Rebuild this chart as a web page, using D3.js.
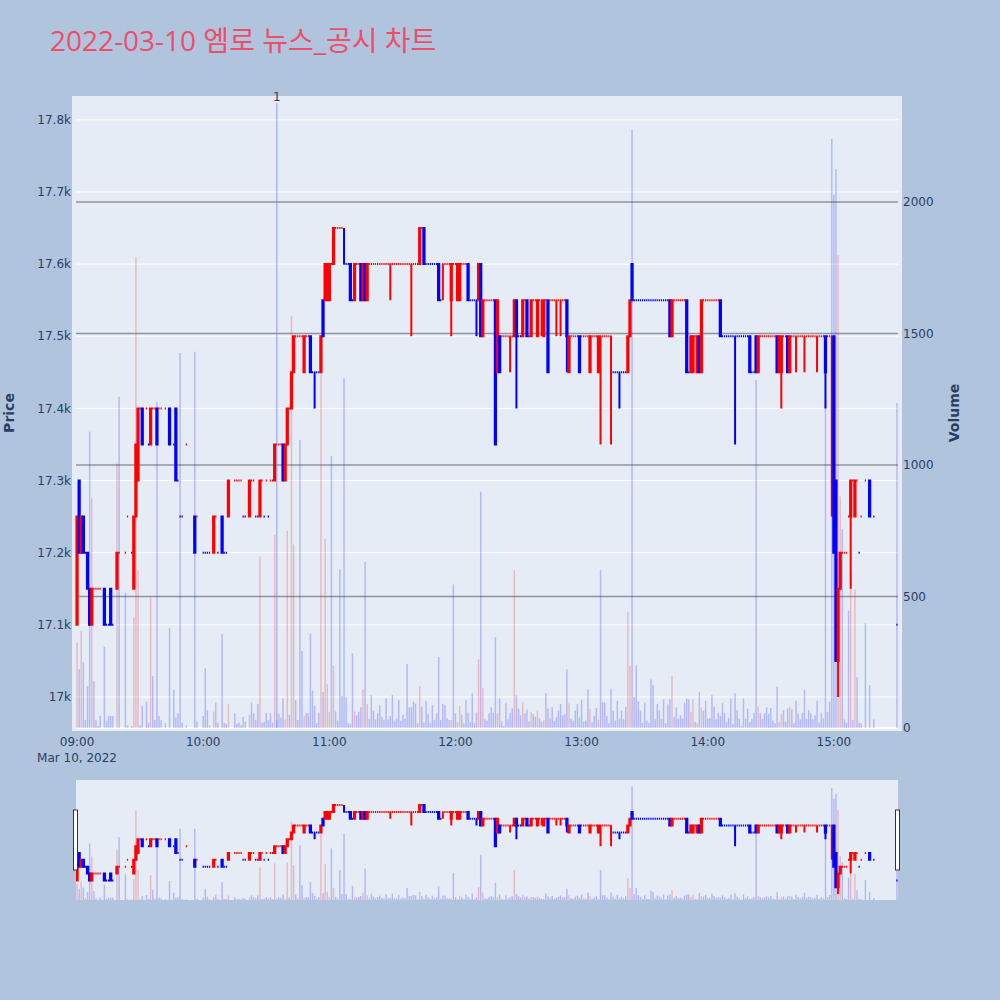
<!DOCTYPE html>
<html><head><meta charset="utf-8">
<script src="https://cdn.jsdelivr.net/npm/d3@7"></script>
<style>body{margin:0;background:#b0c4de}text{font-family:"DejaVu Sans","Noto Sans CJK KR",sans-serif}</style>
</head><body><svg id="chart" width="1000" height="1000"></svg>
<script>
// ---------- DATA ----------
const times = [
"09:00","09:01","09:02","09:03","09:04","09:05","09:06","09:07","09:08","09:09","09:10","09:11",
"09:13","09:14","09:15","09:16","09:17","09:19","09:20","09:23","09:24","09:26","09:27","09:28","09:29",
"09:30","09:31","09:33","09:34","09:35","09:36","09:37","09:38","09:39","09:40","09:42","09:44","09:46",
"09:47","09:48","09:49","09:50","09:52","09:56","09:57","10:00","10:01","10:02","10:03","10:05","10:06",
"10:07","10:09","10:10","10:11","10:12","10:15","10:16","10:17","10:18","10:19","10:20","10:22","10:23",
"10:24","10:25","10:26","10:27","10:28","10:29","10:30","10:31","10:32","10:33","10:34",
"10:35","10:36","10:37","10:38","10:39","10:40","10:41","10:42","10:43","10:44",
"10:45","10:46","10:47","10:48","10:49","10:50","10:51","10:52","10:53","10:54",
"10:55","10:56","10:57","10:58","10:59","11:00","11:01","11:02","11:03","11:04",
"11:05","11:06","11:07","11:08","11:09","11:10","11:11","11:12","11:13","11:14",
"11:15","11:16","11:17","11:18","11:19","11:20","11:21","11:22","11:23","11:24",
"11:25","11:26","11:27","11:28","11:29","11:30","11:31","11:32","11:33","11:34",
"11:35","11:36","11:37","11:38","11:39","11:40","11:41","11:42","11:43","11:44",
"11:45","11:46","11:47","11:48","11:49","11:50","11:51","11:52","11:53","11:54",
"11:55","11:56","11:57","11:58","11:59","12:00","12:01","12:02","12:03","12:04",
"12:05","12:06","12:07","12:08","12:09","12:10","12:11","12:12","12:13","12:14",
"12:15","12:16","12:17","12:18","12:19","12:20","12:21","12:22","12:23","12:24",
"12:25","12:26","12:27","12:28","12:29","12:30","12:31","12:32","12:33","12:34",
"12:35","12:36","12:37","12:38","12:39","12:40","12:41","12:42","12:43","12:44",
"12:45","12:46","12:47","12:48","12:49","12:50","12:51","12:52","12:53","12:54",
"12:55","12:56","12:57","12:58","12:59","13:00","13:01","13:02","13:03","13:04",
"13:05","13:06","13:07","13:08","13:09","13:10","13:11","13:12","13:13","13:14",
"13:15","13:16","13:17","13:18","13:19","13:20","13:21","13:22","13:23","13:24",
"13:25","13:26","13:27","13:28","13:29","13:30","13:31","13:32","13:33","13:34",
"13:35","13:36","13:37","13:38","13:39","13:40","13:41","13:42","13:43","13:44",
"13:45","13:46","13:47","13:48","13:49","13:50","13:51","13:52","13:53","13:54",
"13:55","13:56","13:57","13:58","13:59","14:00","14:01","14:02","14:03","14:04",
"14:05","14:06","14:07","14:08","14:09","14:10","14:11","14:12","14:13","14:14",
"14:15","14:16","14:17","14:18","14:19","14:20","14:21","14:22","14:23","14:24",
"14:25","14:26","14:27","14:28","14:29","14:30","14:31","14:32","14:33","14:34",
"14:35","14:36","14:37","14:38","14:39","14:40","14:41","14:42","14:43","14:44",
"14:45","14:46","14:47","14:48","14:49","14:50","14:51","14:52","14:53","14:54",
"14:55","14:56","14:57","14:58","14:59","15:00","15:01","15:02","15:03","15:04",
"15:05","15:06","15:07","15:08","15:09","15:10","15:11","15:12","15:13",
"15:15","15:17","15:19","15:30"];

const opens = [
17100,17300,17200,17250,17200,17200,17150,17100,17150,17150,17150,17150,
17150,17100,17100,17150,17100,17150,17200,17200,17250,17200,17150,17250,17300,
17400,17400,17400,17350,17350,17400,17400,17400,17400,17400,17400,17400,17350,
17400,17300,17250,17250,17350,17250,17250,17200,17200,17200,17200,17200,17250,
17200,17250,17200,17200,17250,17300,17300,17300,17300,17250,17250,17250,17300,
17300,17250,17250,17250,17300,17250,17300,17250,17300,17300,17300,
17350,17350,17350,17350,17300,17350,17400,17400,17450,17500,
17500,17500,17500,17450,17500,17500,17500,17450,17450,17450,
17450,17450,17550,17550,17550,17550,17600,17600,17650,17650,
17650,17650,17600,17600,17600,17600,17550,17550,17600,17600,
17600,17550,17600,17550,17600,17600,17600,17600,17600,17600,
17600,17600,17600,17600,17600,17600,17600,17600,17600,17600,
17600,17600,17600,17600,17600,17600,17600,17600,17600,17650,
17650,17600,17600,17600,17600,17600,17600,17600,17550,17600,
17600,17600,17600,17550,17600,17600,17550,17550,17600,17600,
17600,17600,17550,17550,17550,17550,17550,17600,17500,17550,
17550,17550,17550,17550,17550,17450,17500,17500,17500,17500,
17500,17500,17500,17500,17550,17500,17500,17500,17550,17550,
17500,17500,17550,17550,17500,17550,17550,17500,17550,17550,
17550,17550,17550,17550,17550,17550,17550,17550,17550,17450,
17500,17500,17500,17500,17500,17500,17500,17500,17500,17450,
17500,17500,17500,17450,17500,17500,17500,17500,17500,17500,
17450,17450,17450,17450,17450,17450,17450,17450,17500,17600,
17550,17550,17550,17550,17550,17550,17550,17550,17550,17550,
17550,17550,17550,17550,17550,17550,17550,17550,17500,17550,
17550,17550,17550,17550,17550,17550,17450,17450,17450,17500,
17450,17500,17450,17550,17550,17550,17550,17550,17550,17550,
17550,17550,17500,17500,17500,17500,17500,17500,17500,17500,
17500,17500,17500,17500,17500,17500,17450,17450,17500,17450,
17500,17500,17500,17500,17500,17500,17500,17500,17500,17450,
17450,17500,17500,17500,17450,17500,17500,17500,17500,17500,
17500,17500,17500,17500,17500,17500,17500,17500,17500,17500,
17500,17500,17500,17500,17500,17500,17300,17050,17150,17200,
17200,17200,17250,17250,17300,17250,17300,17200,17250,
17300,17300,17250,17100];

const highs = [
17250,17300,17250,17250,17200,17200,17150,17150,17150,17150,17150,17150,
17150,17100,17100,17150,17100,17200,17200,17200,17250,17200,17250,17350,17400,
17400,17400,17400,17350,17400,17400,17400,17400,17400,17400,17400,17400,17350,
17400,17300,17250,17250,17350,17250,17250,17200,17200,17200,17200,17250,17250,
17200,17250,17200,17200,17300,17300,17300,17300,17300,17250,17250,17300,17300,
17300,17250,17250,17300,17300,17250,17300,17250,17300,17300,17350,
17350,17350,17350,17350,17350,17400,17400,17450,17500,17500,
17500,17500,17500,17500,17500,17500,17500,17450,17450,17450,
17450,17500,17550,17600,17600,17600,17600,17650,17650,17650,
17650,17650,17650,17600,17600,17600,17550,17600,17600,17600,
17600,17600,17600,17600,17600,17600,17600,17600,17600,17600,
17600,17600,17600,17600,17600,17600,17600,17600,17600,17600,
17600,17600,17600,17600,17600,17600,17600,17600,17650,17650,
17650,17600,17600,17600,17600,17600,17600,17600,17550,17600,
17600,17600,17600,17600,17600,17600,17600,17600,17600,17600,
17600,17600,17550,17550,17550,17550,17600,17600,17550,17550,
17550,17550,17550,17550,17550,17550,17500,17500,17500,17500,
17500,17500,17500,17550,17550,17500,17500,17550,17550,17550,
17500,17550,17550,17550,17550,17550,17550,17550,17550,17550,
17550,17550,17550,17550,17550,17550,17550,17550,17550,17500,
17500,17500,17500,17500,17500,17500,17500,17500,17500,17500,
17500,17500,17500,17500,17500,17500,17500,17500,17500,17500,
17450,17450,17450,17450,17450,17450,17450,17500,17550,17600,
17550,17550,17550,17550,17550,17550,17550,17550,17550,17550,
17550,17550,17550,17550,17550,17550,17550,17550,17550,17550,
17550,17550,17550,17550,17550,17550,17450,17500,17500,17500,
17500,17500,17550,17550,17550,17550,17550,17550,17550,17550,
17550,17550,17500,17500,17500,17500,17500,17500,17500,17500,
17500,17500,17500,17500,17500,17500,17450,17450,17500,17500,
17500,17500,17500,17500,17500,17500,17500,17500,17500,17500,
17500,17500,17500,17500,17500,17500,17500,17500,17500,17500,
17500,17500,17500,17500,17500,17500,17500,17500,17500,17500,
17500,17500,17500,17500,17500,17500,17300,17150,17200,17200,
17200,17200,17250,17300,17300,17300,17300,17200,17250,
17300,17300,17250,17100];

const lows = [
17100,17200,17200,17200,17200,17150,17100,17100,17150,17150,17150,17150,
17100,17100,17100,17100,17100,17150,17200,17200,17250,17200,17150,17250,17300,
17400,17350,17400,17350,17350,17400,17400,17350,17400,17400,17400,17350,17350,
17300,17300,17250,17250,17350,17200,17250,17200,17200,17200,17200,17200,17250,
17200,17200,17200,17200,17250,17300,17300,17300,17300,17250,17250,17250,17300,
17300,17250,17250,17250,17300,17250,17300,17250,17300,17300,17300,
17350,17350,17350,17300,17300,17350,17400,17400,17450,17500,
17500,17500,17500,17450,17500,17500,17450,17450,17400,17450,
17450,17450,17500,17550,17550,17550,17600,17600,17650,17650,
17650,17650,17600,17600,17600,17550,17550,17550,17600,17600,
17550,17550,17550,17550,17600,17600,17600,17600,17600,17600,
17600,17600,17600,17600,17550,17600,17600,17600,17600,17600,
17600,17600,17600,17600,17500,17600,17600,17600,17600,17650,
17600,17600,17600,17600,17600,17600,17600,17550,17550,17550,
17600,17600,17600,17500,17600,17600,17550,17550,17600,17600,
17600,17550,17550,17550,17550,17500,17550,17500,17500,17550,
17550,17550,17550,17550,17350,17450,17450,17500,17500,17500,
17500,17450,17500,17500,17400,17500,17500,17500,17550,17500,
17500,17500,17550,17550,17500,17550,17500,17500,17550,17450,
17550,17550,17550,17500,17550,17500,17550,17550,17450,17450,
17500,17500,17500,17500,17450,17500,17500,17500,17500,17450,
17500,17500,17500,17450,17350,17500,17500,17500,17500,17350,
17450,17450,17450,17400,17450,17450,17450,17450,17500,17550,
17550,17550,17550,17550,17550,17550,17550,17550,17550,17550,
17550,17550,17550,17550,17550,17550,17550,17500,17500,17550,
17550,17550,17550,17550,17550,17450,17450,17450,17450,17500,
17450,17450,17450,17550,17550,17550,17550,17550,17550,17550,
17550,17500,17500,17500,17500,17500,17500,17500,17350,17500,
17500,17500,17500,17500,17500,17450,17450,17450,17450,17450,
17500,17500,17500,17500,17500,17500,17500,17500,17450,17450,
17400,17500,17500,17450,17450,17500,17500,17450,17500,17500,
17500,17450,17500,17500,17500,17500,17500,17450,17500,17500,
17500,17400,17500,17500,17250,17200,17050,17000,17150,17200,
17200,17200,17250,17150,17300,17250,17300,17200,17250,
17300,17250,17250,17100];

const closes = [
17250,17200,17250,17200,17200,17150,17100,17150,17150,17150,17150,17150,
17100,17100,17100,17100,17100,17200,17200,17200,17250,17200,17250,17350,17400,
17400,17350,17400,17350,17400,17400,17400,17350,17400,17400,17400,17350,17350,
17300,17300,17250,17250,17350,17200,17250,17200,17200,17200,17200,17250,17250,
17200,17200,17200,17200,17300,17300,17300,17300,17300,17250,17250,17300,17300,
17300,17250,17250,17300,17300,17250,17300,17250,17300,17300,17350,
17350,17350,17350,17300,17350,17400,17400,17450,17500,17500,
17500,17500,17500,17500,17500,17500,17450,17450,17450,17450,
17450,17500,17500,17600,17600,17600,17600,17650,17650,17650,
17650,17650,17600,17600,17600,17550,17550,17600,17600,17600,
17550,17600,17550,17600,17600,17600,17600,17600,17600,17600,
17600,17600,17600,17600,17600,17600,17600,17600,17600,17600,
17600,17600,17600,17600,17600,17600,17600,17600,17650,17650,
17600,17600,17600,17600,17600,17600,17600,17550,17550,17600,
17600,17600,17600,17600,17600,17600,17600,17600,17600,17600,
17600,17550,17550,17550,17550,17550,17600,17500,17550,17550,
17550,17550,17550,17550,17350,17550,17450,17500,17500,17500,
17500,17500,17500,17550,17500,17500,17500,17550,17550,17500,
17500,17550,17550,17550,17550,17550,17550,17550,17550,17450,
17550,17550,17550,17550,17550,17550,17550,17550,17500,17500,
17500,17500,17500,17500,17450,17500,17500,17500,17500,17500,
17500,17500,17500,17500,17500,17500,17500,17500,17500,17500,
17450,17450,17450,17450,17450,17450,17450,17500,17550,17550,
17550,17550,17550,17550,17550,17550,17550,17550,17550,17550,
17550,17550,17550,17550,17550,17550,17550,17500,17550,17550,
17550,17550,17550,17550,17550,17450,17450,17500,17500,17500,
17500,17450,17550,17550,17550,17550,17550,17550,17550,17550,
17550,17500,17500,17500,17500,17500,17500,17500,17500,17500,
17500,17500,17500,17500,17500,17450,17450,17450,17450,17500,
17500,17500,17500,17500,17500,17500,17500,17500,17450,17500,
17500,17500,17500,17450,17500,17500,17500,17500,17500,17500,
17500,17500,17500,17500,17500,17500,17500,17500,17500,17500,
17500,17450,17500,17500,17500,17200,17050,17150,17200,17200,
17200,17200,17250,17300,17300,17300,17300,17200,17250,
17300,17250,17250,17100];

const volumes = [
324,224,370,250,30,160,1127,873,179,30,8,46,
309,27,46,46,46,1006,1260,515,10,8,420,1791,600,
10,84,100,20,496,198,30,1240,46,30,18,380,145,
40,56,1426,20,10,1430,25,46,227,68,10,62,96,
20,357,20,15,91,56,15,20,10,43,25,51,96,
56,30,91,651,20,25,56,30,56,20,734,
30,53,40,113,33,750,50,1566,698,106,
30,1095,293,47,56,56,360,142,84,18,
58,1361,137,719,167,61,1034,238,63,28,
603,122,1330,119,18,16,284,63,48,61,
79,147,631,91,35,125,66,33,56,86,
43,30,113,33,46,125,28,35,106,28,
51,35,243,79,79,100,94,18,160,81,
20,104,53,18,88,30,56,270,30,91,
87,38,30,30,546,56,23,84,51,18,
106,58,23,132,18,58,261,899,151,33,
28,56,79,58,345,56,112,25,8,94,
33,58,75,600,124,74,48,98,56,70,
25,61,53,43,66,37,24,28,132,74,
37,79,27,41,66,91,48,53,223,94,
36,28,66,91,40,108,25,28,147,73,
23,46,76,30,600,98,96,46,18,150,
66,28,104,36,66,33,81,442,236,2274,
118,238,100,66,20,96,28,18,185,163,
33,91,68,33,109,18,90,109,198,41,
79,36,48,36,94,112,109,61,109,23,
18,136,77,66,104,36,38,125,81,33,
58,46,94,56,23,39,112,15,132,68,
35,8,112,35,74,23,35,58,1323,81,
56,35,56,79,53,76,28,18,157,23,
53,68,25,74,81,71,18,104,56,33,
58,144,35,68,56,33,48,104,20,56,
37,1250,61,100,2240,2027,2125,1798,880,756,
33,20,446,594,30,527,193,20,18,
398,163,33,1236];

const priceTicks = [17000,17100,17200,17300,17400,17500,17600,17700,17800];
const priceTickLabels = ["17k","17.1k","17.2k","17.3k","17.4k","17.5k","17.6k","17.7k","17.8k"];
const volumeTicks = [0,500,1000,1500,2000];
const hourTicks = ["09:00","10:00","11:00","12:00","13:00","14:00","15:00"];
const newsTimes = ["10:35"];
const newsLabels = ["1"];
const titleText = "2022-03-10 엠로 뉴스_공시 차트";
const dateLabel = "Mar 10, 2022";

// ---------- LAYOUT ----------
const svg = d3.select("#chart");
const W = 1000, H = 1000;
const plot = {left: 76, right: 898, top: 96, bottom: 728};
const slider = {top: 780, bottom: 900};
const RED = "#ff0000", BLUE = "#0000ff", TXT = "#2a3f5f";

const parse = t => { const [h, m] = t.split(":").map(Number); return new Date(2022, 2, 10, h, m); };
const x = d3.scaleTime()
  .domain([new Date(2022, 2, 10, 8, 59, 30), new Date(2022, 2, 10, 15, 30, 30)])
  .range([plot.left, plot.right]);
const yP = d3.scaleLinear().domain([16957, 17833]).range([plot.bottom, plot.top]);
const yV = d3.scaleLinear().domain([0, 2403]).range([plot.bottom, plot.top]);
const yPs = d3.scaleLinear().domain([16957, 17833]).range([slider.bottom, slider.top]);
const yVs = d3.scaleLinear().domain([0, 2403]).range([slider.bottom, slider.top]);

// build candles + direction (plotly rule)
const data = [];
let prevC = null, prevDir = "inc";
times.forEach((t, i) => {
  const o = opens[i], h = highs[i], l = lows[i], c = closes[i];
  let dir;
  if (c > o) dir = "inc"; else if (c < o) dir = "dec";
  else if (prevC !== null && c > prevC) dir = "inc";
  else if (prevC !== null && c < prevC) dir = "dec";
  else dir = prevDir;
  prevC = c; prevDir = dir;
  data.push({t: parse(t), o, h, l, c, v: volumes[i], dir, volUp: c > o});
});

svg.append("rect").attr("width", W).attr("height", H).attr("fill", "#b0c4de");

// Title
svg.append("text").attr("x", 50).attr("y", 51).attr("font-size", 28)
  .style("font-family", '"Open Sans","Noto Sans CJK KR",sans-serif')
  .attr("fill", "#ee4e6a").text(titleText);

// plot background
svg.append("rect").attr("x", 72).attr("y", plot.top).attr("width", 830).attr("height", 635)
  .attr("fill", "#e5ecf6");

// price gridlines
svg.append("g").selectAll("line").data(priceTicks).join("line")
  .attr("x1", plot.left).attr("x2", plot.right)
  .attr("y1", d => yP(d)).attr("y2", d => yP(d))
  .attr("stroke", "#fff").attr("stroke-width", 1);
// volume gridlines
svg.append("g").selectAll("line").data(volumeTicks.filter(d => d > 0)).join("line")
  .attr("x1", plot.left).attr("x2", plot.right)
  .attr("y1", d => yV(d)).attr("y2", d => yV(d))
  .attr("stroke", "#8f959c").attr("stroke-width", 1.5);
svg.append("line").attr("x1", plot.left).attr("x2", plot.right)
  .attr("y1", yV(0)).attr("y2", yV(0)).attr("stroke", "#fff").attr("stroke-width", 2);

const step = x(parse("09:01")) - x(parse("09:00"));
const half = step * 0.3;
function candlePath(d, ys) {
  const xc = x(d.t), x0 = xc - half, x1 = xc + half;
  const yo = ys(d.o), yc = ys(d.c), yh = ys(d.h), yl = ys(d.l);
  return `M${x0},${yo}H${x1}V${yc}H${x0}Z` +
    `M${xc},${yl}V${Math.max(yo, yc)}M${xc},${yh}V${Math.min(yo, yc)}`;
}
function drawCandles(g, ys) {
  g.selectAll("path").data(data).join("path")
    .attr("d", d => candlePath(d, ys))
    .attr("fill", d => d.dir === "inc" ? RED : BLUE)
    .attr("stroke", d => d.dir === "inc" ? RED : BLUE)
    .attr("stroke-width", 2);
}
function drawVolume(g, ys, base) {
  const bw = step * 0.7;
  g.selectAll("rect").data(data).join("rect")
    .attr("x", d => x(d.t) - bw / 2).attr("width", bw)
    .attr("y", d => ys(d.v)).attr("height", d => base - ys(d.v))
    .attr("fill", d => d.volUp ? RED : BLUE).attr("opacity", 0.22);
}

// main plot
drawCandles(svg.append("g"), yP);
drawVolume(svg.append("g"), yV, plot.bottom);

// news line + label
newsTimes.forEach((t, i) => {
  const xx = x(parse(t));
  svg.append("line").attr("x1", xx).attr("x2", xx).attr("y1", 103).attr("y2", plot.bottom)
    .attr("stroke", "#6f86ee").attr("stroke-opacity", 0.5).attr("stroke-width", 1.5);
  svg.append("text").attr("x", xx).attr("y", 101).attr("text-anchor", "middle")
    .attr("font-size", 12).attr("fill", TXT).text(newsLabels[i]);
});

// axes labels
svg.append("g").selectAll("text").data(priceTicks).join("text")
  .attr("x", 71).attr("y", d => yP(d)).attr("dy", "0.35em").attr("text-anchor", "end")
  .attr("font-size", 12).attr("fill", TXT).text((d, i) => priceTickLabels[i]);
svg.append("g").selectAll("text").data(volumeTicks).join("text")
  .attr("x", 903).attr("y", d => yV(d)).attr("dy", "0.35em").attr("text-anchor", "start")
  .attr("font-size", 12).attr("fill", TXT).text(d => d);
svg.append("g").selectAll("text").data(hourTicks).join("text")
  .attr("x", d => x(parse(d))).attr("y", 746).attr("text-anchor", "middle")
  .attr("font-size", 12).attr("fill", TXT).text(d => d);
svg.append("text").attr("x", x(parse("09:00"))).attr("y", 762).attr("text-anchor", "middle")
  .attr("font-size", 12).attr("fill", TXT).text(dateLabel);

svg.append("text").attr("transform", "translate(14,413) rotate(-90)").attr("text-anchor", "middle")
  .attr("font-size", 14).attr("font-weight", "bold").attr("fill", TXT).text("Price");
svg.append("text").attr("transform", "translate(959,413) rotate(-90)").attr("text-anchor", "middle")
  .attr("font-size", 14).attr("font-weight", "bold").attr("fill", TXT).text("Volume");

// range slider
svg.append("rect").attr("x", plot.left).attr("y", slider.top)
  .attr("width", plot.right - plot.left).attr("height", slider.bottom - slider.top).attr("fill", "#e5ecf6");
const sg = svg.append("g");
sg.append("defs").append("clipPath").attr("id", "sclip").append("rect")
  .attr("x", plot.left).attr("y", slider.top).attr("width", plot.right - plot.left)
  .attr("height", slider.bottom - slider.top);
const sInner = sg.append("g").attr("clip-path", "url(#sclip)");
drawCandles(sInner.append("g"), yPs);
drawVolume(sInner.append("g"), yVs, slider.bottom);
[plot.left - 1.5, plot.right - 1.5].forEach(hx => {
  svg.append("rect").attr("x", hx - 1).attr("y", 810).attr("width", 4).attr("height", 60)
    .attr("fill", "#fff").attr("stroke", "#333").attr("stroke-width", 1);
});
</script></body></html>
